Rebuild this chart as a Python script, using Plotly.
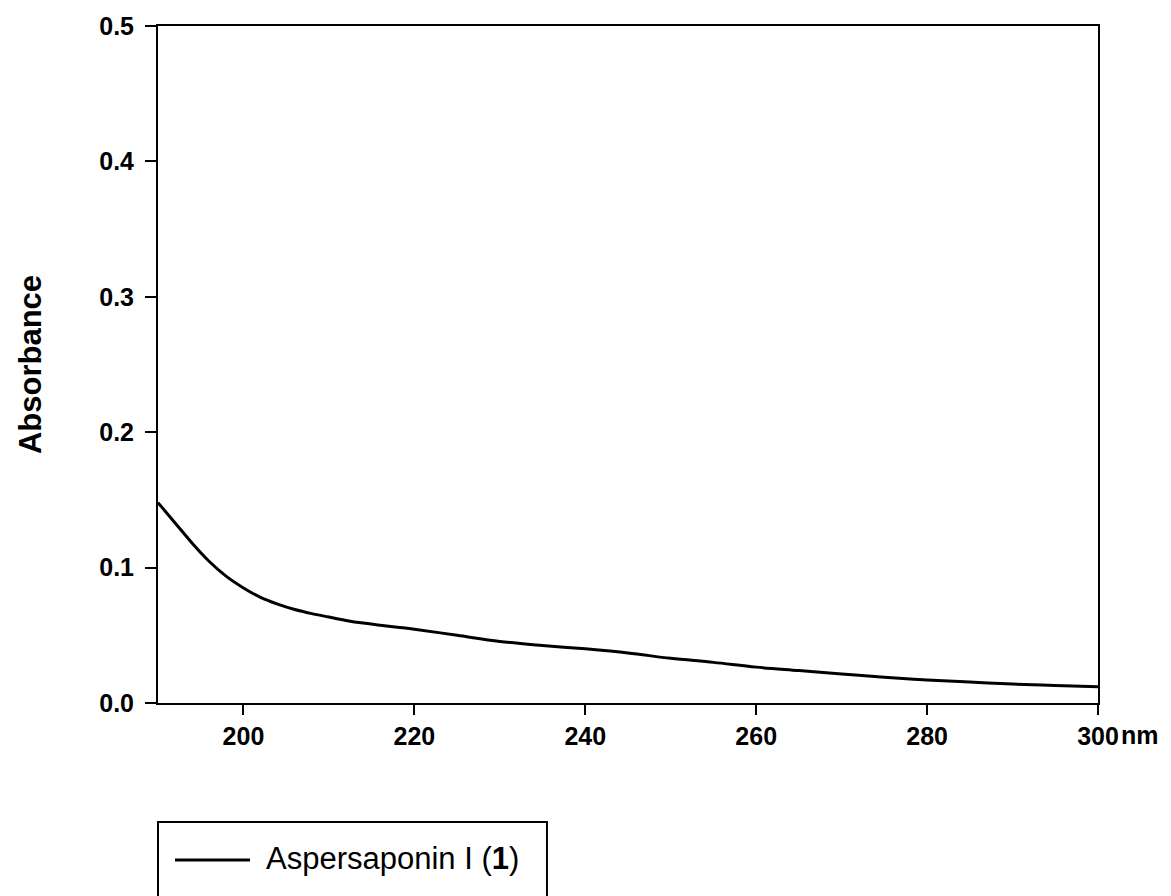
import plotly.graph_objects as go

wavelength = [190, 192, 194, 196, 198, 200, 202, 204, 206, 208, 210, 212, 214, 216, 218, 220,
              225, 230, 235, 240, 245, 250, 255, 260, 265, 270, 275, 280, 285, 290, 295, 300]
absorbance = [0.148, 0.133, 0.118, 0.1045, 0.0935, 0.085, 0.078, 0.073, 0.069, 0.066, 0.0635, 0.061,
              0.059, 0.0575, 0.056, 0.0545, 0.050, 0.0455, 0.0425, 0.040, 0.037, 0.033, 0.030,
              0.0265, 0.024, 0.0215, 0.019, 0.017, 0.0155, 0.014, 0.013, 0.012]
series_name = "Aspersaponin I (<b>1</b>)"
x_ticks = [200, 220, 240, 260, 280, 300]
y_ticks = [0.0, 0.1, 0.2, 0.3, 0.4, 0.5]

FONT = "Liberation Sans, Arial, sans-serif"

fig = go.Figure()
fig.add_trace(go.Scatter(x=wavelength, y=absorbance, mode="lines", name=series_name,
                         line=dict(color="black", width=3, shape="spline"), showlegend=False))

fig.update_layout(
    width=1171, height=896,
    margin=dict(l=158, r=73, t=26, b=193),
    paper_bgcolor="white", plot_bgcolor="white",
    font=dict(family=FONT, color="black"),
    xaxis=dict(range=[190, 300], tickvals=x_ticks, ticktext=[str(v) for v in x_ticks],
               ticks="outside", ticklen=10, tickwidth=2, tickcolor="black",
               showline=True, linecolor="black", linewidth=2, mirror=True,
               showgrid=False, zeroline=False,
               tickfont=dict(family=FONT, size=25, color="black", weight="bold")),
    yaxis=dict(range=[0, 0.5], tickvals=y_ticks, tickformat=".1f",
               ticks="outside", ticklen=11, tickwidth=2, tickcolor="black",
               showline=True, linecolor="black", linewidth=2, mirror=True,
               showgrid=False, zeroline=False, ticklabelstandoff=6,
               tickfont=dict(family=FONT, size=25, color="black", weight="bold"),
               title=dict(text="<b>Absorbance</b>", standoff=48,
                          font=dict(family=FONT, size=31, color="black"))),
)

# unit label next to the last x tick
fig.add_annotation(xref="paper", yref="paper", x=1, y=0, xanchor="left", yanchor="top",
                   xshift=21, yshift=-16, text="<b>nm</b>", showarrow=False,
                   font=dict(family=FONT, size=25, color="black"))

# legend box (drawn manually, extends past the bottom of the image)
fig.add_shape(type="rect", xref="paper", yref="paper", x0=0, x1=0.4138, y0=-0.40, y1=-0.1758,
              line=dict(color="black", width=2), fillcolor="rgba(0,0,0,0)")
fig.add_shape(type="line", xref="paper", yref="paper", x0=0.0181, x1=0.0979, y0=-0.2319, y1=-0.2319,
              line=dict(color="black", width=3))
fig.add_annotation(xref="paper", yref="paper", x=0.1124, y=-0.229, xanchor="left", yanchor="middle",
                   text=series_name, showarrow=False,
                   font=dict(family=FONT, size=31, color="black"))

fig.write_html("out.html")
